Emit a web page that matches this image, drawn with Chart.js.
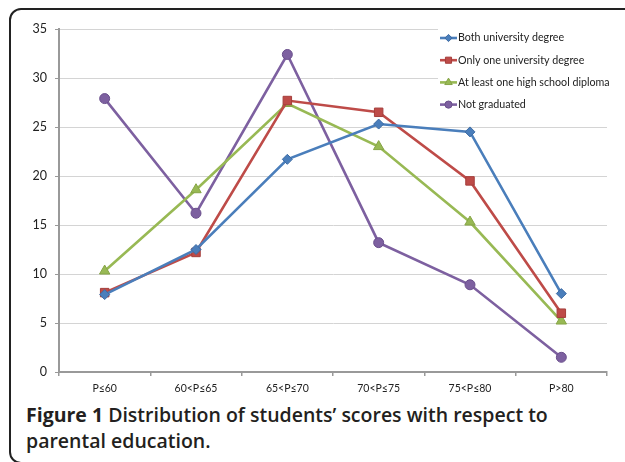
<!DOCTYPE html>
<html>
<head>
<meta charset="utf-8">
<script src="https://cdn.jsdelivr.net/npm/chart.js@4/dist/chart.umd.min.js"></script>
<style>
  html, body { margin: 0; padding: 0; background: #fff; width: 625px; height: 462px; overflow: hidden; }
  .frame { position: absolute; left: 9px; top: 8px; width: 700px; height: 452px; border: 2px solid #222; border-radius: 12px; }
  .wrap { position: absolute; left: 0; top: 0; width: 625px; height: 400px; }
  .caption { position: absolute; left: 26px; top: 402px; font-family: "Open Sans", sans-serif; font-size: 19.5px; line-height: 26px; color: #231f20; font-weight: 600; white-space: nowrap; }
  .caption b { font-weight: 700; }
</style>
</head>
<body>
<div class="frame"></div>
<div class="wrap"><canvas id="c" width="625" height="400"></canvas></div>
<div class="caption"><b>Figure 1</b> Distribution of students’ scores with respect to<br>parental education.</div>
<script>
const categories = ["P\u226460", "60<P\u226465", "65<P\u226470", "70<P\u226475", "75<P\u226480", "P>80"];
const bothUniversity = [7.9, 12.5, 21.7, 25.3, 24.5, 8.0];
const oneUniversity = [8.1, 12.2, 27.7, 26.5, 19.5, 6.0];
const highSchool = [10.3, 18.6, 27.4, 23.0, 15.3, 5.2];
const notGraduated = [27.9, 16.2, 32.4, 13.2, 8.9, 1.5];
const yTicks = [0, 5, 10, 15, 20, 25, 30, 35];

const font = "Lato, 'Open Sans', sans-serif";

function series(label, data, color, border, pointStyle, radius) {
  return {
    label, data,
    borderColor: color, backgroundColor: color,
    pointBackgroundColor: color, pointBorderColor: border,
    pointBorderWidth: 1, borderWidth: 2.6,
    pointStyle, pointRadius: radius, pointHoverRadius: radius,
    tension: 0
  };
}

// Legend drawn in the upper-right corner of the plot area, on a white box
const innerLegend = {
  id: 'innerLegend',
  afterDatasetsDraw(chart) {
    const ctx = chart.ctx;
    const x0 = 438, y0 = 26, rowH = 22.2;
    ctx.save();
    ctx.fillStyle = '#fff';
    ctx.fillRect(x0, 20, 172, 94);
    ctx.font = "10.7px " + font;
    ctx.textBaseline = 'middle';
    chart.data.datasets.forEach((ds, i) => {
      const y = y0 + 12 + i * rowH;
      ctx.strokeStyle = ds.borderColor;
      ctx.lineWidth = 2.6;
      ctx.beginPath();
      ctx.moveTo(x0 + 2, y);
      ctx.lineTo(x0 + 19, y);
      ctx.stroke();
      ctx.fillStyle = ds.pointBackgroundColor;
      ctx.strokeStyle = ds.pointBorderColor;
      ctx.lineWidth = 1;
      Chart.helpers.drawPoint(ctx, { pointStyle: ds.pointStyle, radius: ds.pointRadius * 0.72, borderWidth: 1 }, x0 + 10.5, y);
      ctx.fillStyle = '#222';
      ctx.fillText(ds.label, x0 + 20, y);
    });
    ctx.restore();
  }
};

new Chart(document.getElementById('c'), {
  type: 'line',
  data: {
    labels: categories,
    datasets: [
      series('Both university degree', bothUniversity, '#4a7ebb', '#3d6ba3', 'rectRot', 5),
      series('Only one university degree', oneUniversity, '#be4b48', '#a53e3b', 'rect', 6),
      series('At least one high school diploma', highSchool, '#98b954', '#86a446', 'triangle', 6),
      series('Not graduated', notGraduated, '#7d60a0', '#6a4f8c', 'circle', 5)
    ]
  },
  options: {
    responsive: false,
    animation: false,
    layout: { padding: { top: 29, right: 18, left: 0, bottom: 0 } },
    plugins: { legend: { display: false }, tooltip: { enabled: false } },
    scales: {
      x: {
        offset: true,
        border: { color: '#999', width: 2 },
        grid: { offset: true, drawOnChartArea: false, drawTicks: true, tickLength: 4, tickColor: '#999', lineWidth: 1.5 },
        ticks: { color: '#222', font: { family: font, size: 10.5 }, padding: 6, maxRotation: 0 },
        afterFit(s) { s.height = 28; }
      },
      y: {
        min: 0, max: 35,
        afterBuildTicks(s) { s.ticks = yTicks.map(v => ({ value: v })); },
        border: { color: '#999', width: 2 },
        grid: { color: '#d4d4d4', lineWidth: 1, tickLength: 4, tickColor: '#999' },
        ticks: { color: '#222', font: { family: font, size: 12.5 }, padding: 8 },
        afterFit(s) { s.width = 59; }
      }
    }
  },
  plugins: [innerLegend]
});
</script>
</body>
</html>
